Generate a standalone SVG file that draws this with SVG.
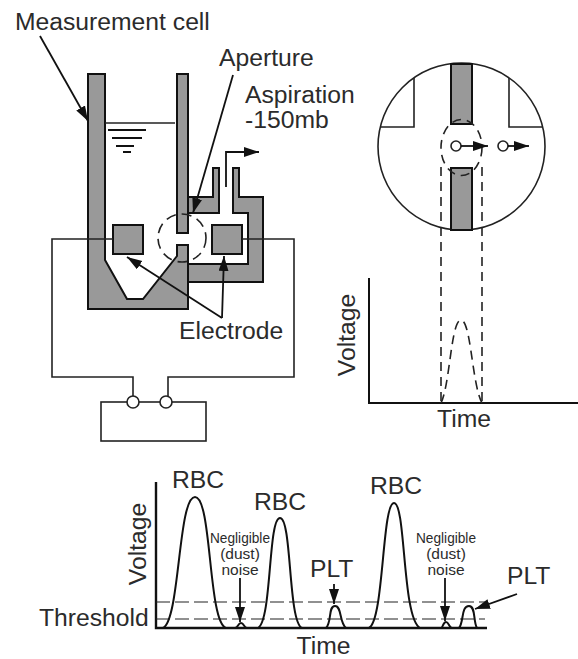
<svg xmlns="http://www.w3.org/2000/svg" width="578" height="659" viewBox="0 0 578 659">
<style>
text{font-family:"Liberation Sans",Arial,sans-serif;font-size:24.7px;fill:#2b2b2b}
text.n{font-size:15.5px;text-anchor:middle}
.m{text-anchor:middle}
.g{fill:#999;stroke:#111;stroke-width:2;stroke-linejoin:miter}
.l{fill:none;stroke:#222;stroke-width:1.6}
.k{fill:none;stroke:#111;stroke-width:2}
.d{fill:none;stroke:#222;stroke-width:1.6;stroke-dasharray:9 6}
.t{fill:none;stroke:#222;stroke-width:1.1;stroke-dasharray:14 5}
.a{fill:none;stroke:#111;stroke-width:1.8;marker-end:url(#h)}
.c{fill:#fff;stroke:#222;stroke-width:1.6}
</style>
<defs><marker id="h" markerUnits="userSpaceOnUse" markerWidth="16" markerHeight="12" refX="15" refY="5" orient="auto"><path d="M0 0L15 5L0 10Z" fill="#111"/></marker></defs>
<rect width="578" height="659" fill="#fff"/>
<g id="cell">
<path class="g" d="M88 74H105V260L127 299H143L177 256V245H188V309H88Z"/>
<rect class="g" x="177" y="74" width="11" height="159"/>
<path class="g" d="M188 197H213V168H219V213H188Z"/>
<path class="g" d="M233 168H239V197H263V282H188V264H248V213H233Z"/>
<path class="l" d="M105 123H175"/>
<path class="k" d="M108 130H146M112 138H142M116 146H134M123 152H131"/>
</g>
<g id="electrodes">
<rect class="g" x="113" y="225" width="30" height="29"/>
<rect class="g" x="212" y="225" width="30" height="29"/>
</g>
<g id="circuit">
<path class="l" d="M113 239H52V377H133V402M242 239H294V377H168V402"/>
<rect class="l" x="101" y="402" width="105" height="39"/>
<circle class="c" cx="133" cy="402" r="6"/>
<circle class="c" cx="166" cy="402" r="6"/>
</g>
<g id="magnifier">
<circle class="l" cx="461.500" cy="146.500" r="83.500"/>
<rect class="g" x="451" y="64" width="21" height="60"/>
<rect class="g" x="451" y="168" width="21" height="62"/>
<path class="l" d="M414 78V127H380M509 78V127H543"/>
<circle class="c" cx="456" cy="146" r="5"/>
<circle class="c" cx="503" cy="146" r="5"/>
</g>
<g id="pulse-graph">
<path class="k" d="M369 278V403H578"/>
<path class="d" d="M441 403C450 385 451 320 461 320C471 320 472 385 482 403"/>
</g>
<g id="count-graph">
<path class="k" d="M156 482V628H487" style="stroke-width:2.4"/>
<path class="t" d="M156 602H485M156 619H485"/>
<path class="k" d="M163 628C180 620 178 497 195 497C212 497 208 622 226 628H235C238 628 238 623 241 623C244 623 244 628 247 628H258C272 620 268 518 280 518C292 518 288 622 302 628M326 628C332 622 328 606 335 606C342 606 339 622 346 628M369 628C384 620 382 503 394 503C406 503 402 618 420 628M441 628C443 628 443 622 446 622C449 622 449 628 452 628M459 628C464 622 461 606 469 606C476 606 473 622 477 628"/>
</g>
<g id="connectors">
<path class="a" d="M40 36L88 121"/>
<path class="a" d="M233 75L193 213"/>
<path class="a" d="M222 318L127 257"/>
<path class="a" d="M222 318L224 256"/>
<path class="a" d="M226 187V152H259"/>
<circle class="d" cx="182" cy="238" r="24" style="stroke-dasharray:10 6"/>
<ellipse class="d" cx="461.500" cy="147.500" rx="20.500" ry="28"/>
<path class="d" d="M441 167V403M482 167V403"/>
<path class="a" d="M461 146H488"/>
<path class="a" d="M508 146H529"/>
<path class="a" d="M240 578V622"/>
<path class="a" d="M334 584V604"/>
<path class="a" d="M445 578V621"/>
<path class="a" d="M517 594L475 609"/>
</g>
<g id="labels">
<text x="15" y="30">Measurement cell</text>
<text x="219" y="66">Aperture</text>
<text x="245" y="103">Aspiration</text>
<text x="245" y="128">-150mb</text>
<text x="179" y="339">Electrode</text>
<text class="m" x="464" y="427">Time</text>
<text class="m" transform="translate(355 335) rotate(-90)">Voltage</text>
<text x="172" y="488">RBC</text>
<text x="254" y="510">RBC</text>
<text x="370" y="494">RBC</text>
<text x="310" y="577">PLT</text>
<text x="507" y="584">PLT</text>
<text x="39" y="626">Threshold</text>
<text class="m" transform="translate(146 544) rotate(-90)">Voltage</text>
<text class="m" x="323.500" y="654">Time</text>
<text class="n" x="240" y="543" textLength="60" lengthAdjust="spacingAndGlyphs">Negligible</text>
<text class="n" x="240" y="559">(dust)</text>
<text class="n" x="240" y="575">noise</text>
<text class="n" x="446" y="543" textLength="60" lengthAdjust="spacingAndGlyphs">Negligible</text>
<text class="n" x="446" y="559">(dust)</text>
<text class="n" x="446" y="575">noise</text>
</g>
</svg>
